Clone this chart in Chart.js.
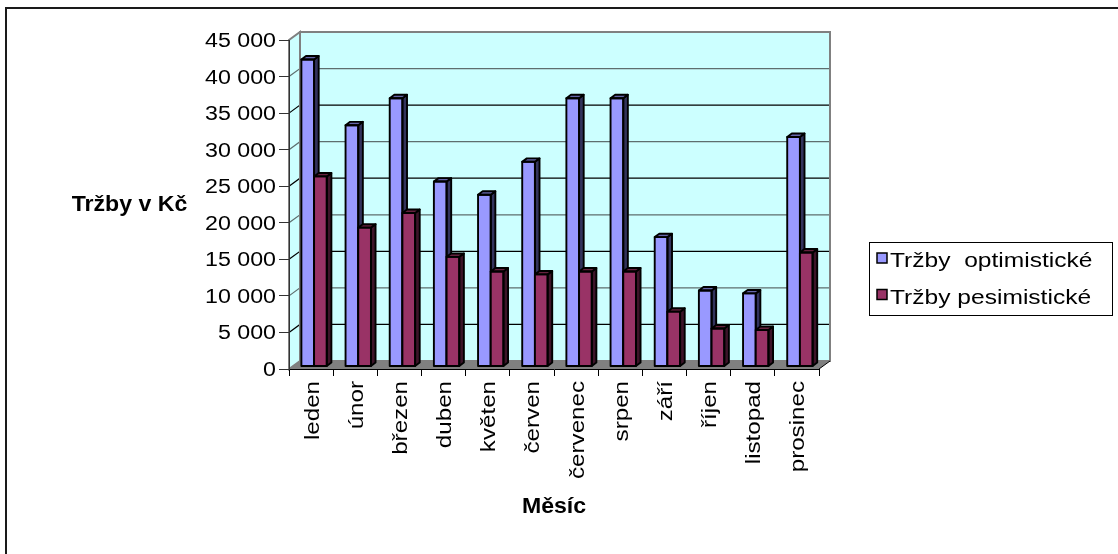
<!DOCTYPE html>
<html lang="cs">
<head>
<meta charset="utf-8">
<title>Tržby</title>
<script src="https://cdn.jsdelivr.net/npm/chart.js@4.4.1/dist/chart.umd.min.js"></script>
<style>
  html, body { margin: 0; padding: 0; background: #fff; }
  #wrap { position: relative; width: 1118px; height: 554px; }
</style>
</head>
<body>
<div id="wrap"><canvas id="trzby"></canvas></div>
<script>
const mesice = ['leden', 'únor', 'březen', 'duben', 'květen', 'červen', 'červenec', 'srpen', 'září', 'říjen', 'listopad', 'prosinec'];
const trzbyOptimisticke = [42000, 33000, 36700, 25300, 23500, 28000, 36700, 36700, 17700, 10400, 10000, 31400];
const trzbyPesimisticke = [26000, 19000, 21000, 15000, 13000, 12600, 13000, 13000, 7500, 5200, 5000, 15600];
const osaY = [0, 5000, 10000, 15000, 20000, 25000, 30000, 35000, 40000, 45000];

// hloubka stěn grafu, hloubka sloupce a posun čela sloupců dozadu
const HLOUBKA = { x: 11, y: -8 };
const SLOUPEC = { x: 4.6, y: -3.4 };
const POSUN = { x: 3, y: -2.5 };

const PISMO = '"Liberation Sans", Arial, sans-serif';
const barvy = [
  { celo: '#9999ff', vrch: '#6666aa', bok: '#33335c' },
  { celo: '#993366', vrch: '#66223f', bok: '#3d1429' }
];

function tisice(v) {
  return String(v).replace(/\B(?=(\d{3})+(?!\d))/g, ' ');
}

function mnohouhelnik(ctx, body) {
  ctx.beginPath();
  ctx.moveTo(body[0][0], body[0][1]);
  for (let i = 1; i < body.length; i++) ctx.lineTo(body[i][0], body[i][1]);
  ctx.closePath();
}

// text mírně roztažený do šířky
function text(ctx, t, x, y, sx, align) {
  ctx.save();
  ctx.translate(x, y);
  ctx.scale(sx, 1);
  ctx.textAlign = align;
  ctx.textBaseline = 'alphabetic';
  ctx.fillText(t, 0, 0);
  ctx.restore();
}

const prostor3d = {
  id: 'prostor3d',
  beforeDraw(chart) {
    const { ctx, chartArea: a, scales: { y } } = chart;
    const dx = HLOUBKA.x, dy = HLOUBKA.y;
    ctx.save();

    // rámeček
    ctx.strokeStyle = '#1a1a1a';
    ctx.lineWidth = 2;
    ctx.beginPath();
    ctx.moveTo(6, chart.height);
    ctx.lineTo(6, 8);
    ctx.lineTo(chart.width, 8);
    ctx.stroke();

    // zadní a boční stěna
    ctx.fillStyle = '#ccffff';
    ctx.fillRect(a.left + dx, a.top + dy, a.right - a.left, a.bottom - a.top);
    mnohouhelnik(ctx, [[a.left, a.bottom], [a.left, a.top], [a.left + dx, a.top + dy], [a.left + dx, a.bottom + dy]]);
    ctx.fill();

    // mřížka
    ctx.lineWidth = 1.2;
    y.ticks.forEach(t => {
      if (t.value === y.min || t.value === y.max) return;
      const py = y.getPixelForValue(t.value);
      ctx.strokeStyle = (t.value / 5000) % 2 ? '#000' : '#5e6e6e';
      ctx.beginPath();
      ctx.moveTo(a.left, py);
      ctx.lineTo(a.left + dx, py + dy);
      ctx.lineTo(a.right + dx, py + dy);
      ctx.stroke();
    });

    ctx.strokeStyle = '#808080';
    ctx.lineWidth = 2;
    ctx.strokeRect(a.left + dx, a.top + dy, a.right - a.left, a.bottom - a.top);
    mnohouhelnik(ctx, [[a.left, a.bottom], [a.left, a.top], [a.left + dx, a.top + dy], [a.left + dx, a.bottom + dy]]);
    ctx.stroke();

    // podlaha
    ctx.fillStyle = '#808080';
    mnohouhelnik(ctx, [[a.left, a.bottom], [a.right, a.bottom], [a.right + dx, a.bottom + dy], [a.left + dx, a.bottom + dy]]);
    ctx.fill();
    ctx.strokeStyle = '#000';
    ctx.lineWidth = 1;
    ctx.beginPath();
    ctx.moveTo(a.right, a.bottom);
    ctx.lineTo(a.right + dx, a.bottom + dy);
    ctx.stroke();

    ctx.restore();
  },
  beforeDatasetsDraw(chart) {
    chart.ctx.save();
    chart.ctx.translate(POSUN.x, POSUN.y);
  },
  afterDatasetsDraw(chart) {
    // kvádry kreslené zleva doprava, aby pravý sloupec překryl bok levého
    const ctx = chart.ctx;
    const sx = SLOUPEC.x, sy = SLOUPEC.y;
    ctx.strokeStyle = '#000';
    ctx.lineWidth = 1.9;
    ctx.lineJoin = 'round';
    chart.data.datasets.forEach((ds, i) => {
      const b = barvy[i];
      chart.getDatasetMeta(i).data.forEach(bar => {
        const { x, y, base, width } = bar.getProps(['x', 'y', 'base', 'width'], true);
        const l = x - width / 2, r = x + width / 2;
        // čelo
        ctx.fillStyle = b.celo;
        ctx.fillRect(l, y, width, base - y);
        // bok
        ctx.fillStyle = b.bok;
        mnohouhelnik(ctx, [[r, y], [r + sx, y + sy], [r + sx, base + sy], [r, base]]);
        ctx.fill();
        ctx.stroke();
        // vršek
        ctx.fillStyle = b.vrch;
        mnohouhelnik(ctx, [[l, y], [l + sx, y + sy], [r + sx, y + sy], [r, y]]);
        ctx.fill();
        ctx.stroke();
        ctx.strokeRect(l, y, width, base - y);
      });
    });
    ctx.restore();
  },
  afterDraw(chart) {
    const { ctx, scales: { x, y } } = chart;
    ctx.save();
    ctx.fillStyle = '#000';

    // popisky osy Y
    ctx.font = '20px ' + PISMO;
    y.ticks.forEach(t => {
      text(ctx, tisice(t.value), 276, y.getPixelForValue(t.value) + 7, 1.16, 'right');
    });

    // měsíce svisle
    ctx.font = '21px ' + PISMO;
    chart.data.labels.forEach((m, i) => {
      ctx.save();
      ctx.translate(x.getPixelForValue(i) + 7.5, 381);
      ctx.rotate(-Math.PI / 2);
      text(ctx, m, 0, 0, 1.15, 'right');
      ctx.restore();
    });

    // názvy os
    ctx.font = 'bold 22px ' + PISMO;
    text(ctx, 'Tržby v Kč', 129.5, 211, 1.05, 'center');
    text(ctx, 'Měsíc', (x.left + x.right) / 2, 513, 1.05, 'center');

    // legenda
    ctx.strokeStyle = '#000';
    ctx.lineWidth = 1;
    ctx.strokeRect(869.5, 242.5, 243, 73);
    ctx.font = '21px ' + PISMO;
    chart.data.datasets.forEach((ds, i) => {
      const top = 253 + i * 36.5;
      ctx.fillStyle = ds.backgroundColor;
      ctx.fillRect(877, top, 10, 10);
      ctx.lineWidth = 1.5;
      ctx.strokeRect(877, top, 10, 10);
      ctx.fillStyle = '#000';
      text(ctx, ds.label, 890, top + 14, 1.17, 'left');
    });
    ctx.restore();
  }
};

new Chart(document.getElementById('trzby'), {
  type: 'bar',
  data: {
    labels: mesice,
    datasets: [
      { label: 'Tržby  optimistické', data: trzbyOptimisticke, backgroundColor: barvy[0].celo },
      { label: 'Tržby pesimistické', data: trzbyPesimisticke, backgroundColor: barvy[1].celo }
    ]
  },
  options: {
    responsive: true,
    maintainAspectRatio: false,
    animation: false,
    events: [],
    layout: { padding: { left: 0, top: 40, right: 299, bottom: 85 } },
    datasets: { bar: { categoryPercentage: 0.575, barPercentage: 1, borderWidth: 0 } },
    plugins: { legend: { display: false }, tooltip: { enabled: false } },
    scales: {
      x: {
        offset: true,
        grid: { offset: true, drawOnChartArea: false, tickLength: 7, color: '#000' },
        border: { color: '#000' },
        ticks: { display: false },
        afterFit(s) { s.height = 100; }
      },
      y: {
        min: 0,
        max: 45000,
        grid: { drawOnChartArea: false, tickLength: 10, color: '#333' },
        border: { color: '#333' },
        ticks: { display: false },
        afterBuildTicks(s) { s.ticks = osaY.map(v => ({ value: v })); },
        afterFit(s) { s.width = 289; }
      }
    }
  },
  plugins: [prostor3d]
});
</script>
</body>
</html>
